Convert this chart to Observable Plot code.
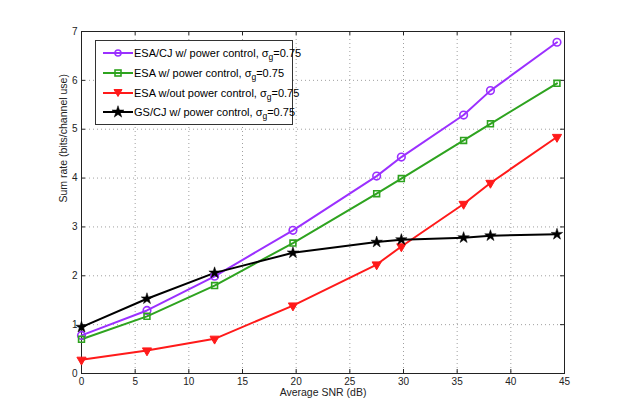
<!DOCTYPE html>
<html><head><meta charset="utf-8">
<script src="https://cdn.jsdelivr.net/npm/d3@7"></script>
<script src="https://cdn.jsdelivr.net/npm/@observablehq/plot@0.6"></script>
<style>
body{margin:0;background:#fff;font-family:"Liberation Sans",Arial,sans-serif;}
#wrap{position:relative;width:623px;height:419px;}
#legend{position:absolute;left:95px;top:40px;width:198px;height:85px;border:1px solid #333;background:#fff;box-sizing:border-box;font-size:11px;color:#000;}
.row{position:absolute;left:0;height:16px;display:flex;align-items:center;}
.row svg{width:40px;height:16px;}
.row span{margin-left:-2px;white-space:nowrap;}
sub{font-size:8.5px;vertical-align:-3px;line-height:0;}
</style></head><body><div id="wrap"></div>
<script>
const snr = [0, 6.1, 12.4, 19.7, 27.5, 29.8, 35.6, 38.1, 44.3];
const esaCj = [0.78, 1.29, 1.99, 2.93, 4.04, 4.43, 5.29, 5.79, 6.78];
const esaPc = [0.70, 1.17, 1.80, 2.67, 3.68, 3.99, 4.77, 5.11, 5.94];
const esaNoPc = [0.28, 0.47, 0.71, 1.39, 2.23, 2.60, 3.47, 3.90, 4.84];
const gsCj = [0.95, 1.53, 2.06, 2.47, 2.69, 2.74, 2.78, 2.82, 2.85];
const seriesNames = ["ESA/CJ w/ power control", "ESA w/ power control", "ESA w/out power control", "GS/CJ w/ power control"];
const sigmaLabel = "=0.75";
const colors = ["#9b30ff", "#2ea31f", "#ff1a1a", "#000000"];
const xTicks = [0,5,10,15,20,25,30,35,40,45];
const yTicks = [0,1,2,3,4,5,6,7];
const xLabel = "Average SNR (dB)";
const yLabel = "Sum rate (bits/channel use)";

const allVals = [esaCj, esaPc, esaNoPc, gsCj];
const data = [];
allVals.forEach((vals, s) => vals.forEach((v, i) => data.push({x: snr[i], y: v, s})));
const ser = s => data.filter(d => d.s === s);

const W = 623, H = 419, mL = 81, mR = 59, mT = 31, mB = 46;
const pw = W - mL - mR, ph = H - mT - mB, tk = 4;

const chart = Plot.plot({
  width: W, height: H,
  marginLeft: mL, marginRight: mR, marginTop: mT, marginBottom: mB,
  style: {fontFamily: '"Liberation Sans", Arial, sans-serif', fontSize: "10px", color: "#222", background: "#fff"},
  x: {domain: [0, 45]},
  y: {domain: [0, 7]},
  marks: [
    Plot.ruleX(xTicks.slice(1, -1), {x: d => d, stroke: "#888", strokeDasharray: "1,3", strokeWidth: 0.8}),
    Plot.ruleY(yTicks.slice(1, -1), {y: d => d, stroke: "#888", strokeDasharray: "1,3", strokeWidth: 0.8}),
    // inward ticks
    Plot.tickX(xTicks, {x: d => d, insetTop: ph - tk, stroke: "#222"}),
    Plot.tickX(xTicks, {x: d => d, insetBottom: ph - tk, stroke: "#222"}),
    Plot.tickY(yTicks, {y: d => d, insetRight: pw - tk, stroke: "#222"}),
    Plot.tickY(yTicks, {y: d => d, insetLeft: pw - tk, stroke: "#222"}),
    Plot.frame({stroke: "#222", strokeWidth: 1}),
    Plot.axisX({ticks: xTicks, tickSize: 0, tickPadding: 4, label: null, tickFormat: d => String(d)}),
    Plot.axisY({ticks: yTicks, tickSize: 0, tickPadding: 4, label: null, tickFormat: d => String(d)}),
    Plot.text([xLabel], {frameAnchor: "bottom", dy: 22, text: d => d, fontSize: 10.5, fill: "#222"}),
    Plot.text([yLabel], {frameAnchor: "left", dx: -18, rotate: -90, text: d => d, fontSize: 10.5, fill: "#222"}),
    // lines
    ...[0,1,2,3].map(s => Plot.line(ser(s), {x: "x", y: "y", stroke: colors[s], strokeWidth: 2})),
    Plot.dot(ser(0), {x: "x", y: "y", symbol: "circle", r: 3.8, stroke: colors[0], strokeWidth: 1.6, fill: "none"}),
    Plot.dot(ser(1), {x: "x", y: "y", symbol: "square", r: 3.3, stroke: colors[1], strokeWidth: 1.6, fill: "none"}),
    Plot.dot(ser(2), {x: "x", y: "y", symbol: "triangle", rotate: 180, r: 3.4, fill: colors[2], stroke: colors[2], strokeWidth: 1}),
    Plot.dot(ser(3), {x: "x", y: "y", symbol: "star", r: 3.6, fill: colors[3], stroke: colors[3], strokeWidth: 0.5})
  ]
});
const wrap = document.getElementById("wrap");
wrap.appendChild(chart);

// legend
const legend = document.createElement("div");
legend.id = "legend";
const rowsTop = [4, 24, 44, 63];
const markerSvg = [
  c => `<circle cx="22" cy="8" r="3" fill="none" stroke="${c}" stroke-width="1.6"/>`,
  c => `<rect x="19" y="5" width="6" height="6" fill="none" stroke="${c}" stroke-width="1.6"/>`,
  c => `<path d="M18,4.5 L26,4.5 L22,11.5 Z" fill="${c}" stroke="${c}" stroke-width="1"/>`,
  c => `<path d="${d3.symbol(d3.symbolStar, 45)()}" transform="translate(22,8)" fill="${c}" stroke="${c}" stroke-width="0.5"/>`
];
seriesNames.forEach((name, i) => {
  const row = document.createElement("div");
  row.className = "row";
  row.style.top = rowsTop[i] + "px";
  row.innerHTML = `<svg viewBox="0 0 40 16"><line x1="7" y1="8" x2="37" y2="8" stroke="${colors[i]}" stroke-width="2"/>${markerSvg[i](colors[i])}</svg><span>${name}, σ<sub>g</sub>${sigmaLabel}</span>`;
  legend.appendChild(row);
});
wrap.appendChild(legend);
</script></body></html>
